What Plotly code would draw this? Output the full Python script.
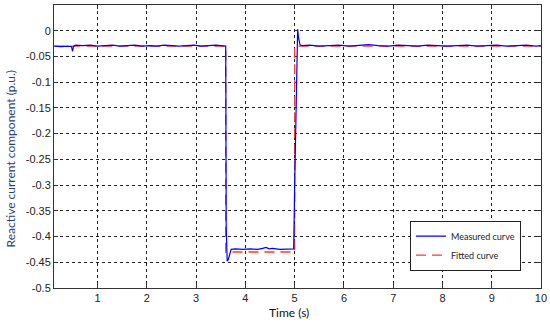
import plotly.graph_objects as go

# Measured reactive current component (p.u.) vs time (s)
meas_t = [0.12, 0.25, 0.40, 0.47, 0.49, 0.51, 0.55, 0.70, 0.85, 1.00, 1.15, 1.30,
          1.45, 1.60, 1.75, 1.90, 2.05, 2.20, 2.35, 2.50, 2.65, 2.80, 2.95, 3.10,
          3.25, 3.40, 3.50, 3.58, 3.60, 3.61, 3.63, 3.65, 3.68, 3.71, 3.80, 3.95,
          4.10, 4.25, 4.35, 4.42, 4.48, 4.55, 4.70, 4.85, 4.98, 5.00, 5.03, 5.06,
          5.08, 5.11, 5.15, 5.30, 5.50, 5.70, 5.90, 6.10, 6.30, 6.50, 6.70, 6.90,
          7.10, 7.30, 7.50, 7.70, 7.90, 8.10, 8.30, 8.50, 8.70, 8.90, 9.10, 9.30,
          9.50, 9.70, 9.90, 10.0]
meas_v = [-0.030, -0.031, -0.030, -0.031, -0.040, -0.030, -0.028, -0.029, -0.028, -0.030, -0.029, -0.028,
          -0.030, -0.029, -0.028, -0.030, -0.029, -0.030, -0.028, -0.029, -0.030, -0.029, -0.028, -0.030,
          -0.029, -0.028, -0.029, -0.030, -0.030, -0.380, -0.448, -0.445, -0.432, -0.425, -0.424, -0.425,
          -0.424, -0.425, -0.423, -0.421, -0.424, -0.423, -0.425, -0.424, -0.424, -0.300, -0.120, 0.003,
          -0.015, -0.028, -0.029, -0.028, -0.030, -0.029, -0.028, -0.030, -0.029, -0.027, -0.029, -0.030,
          -0.028, -0.029, -0.030, -0.028, -0.029, -0.030, -0.029, -0.028, -0.030, -0.029, -0.028, -0.030,
          -0.029, -0.028, -0.030, -0.029]

# Fitted curve
fit_t = [0.12, 3.60, 3.60, 5.00, 5.00, 10.0]
fit_v = [-0.030, -0.030, -0.430, -0.430, -0.030, -0.030]

x_ticks = [1, 2, 3, 4, 5, 6, 7, 8, 9, 10]
y_ticks = [0, -0.05, -0.1, -0.15, -0.2, -0.25, -0.3, -0.35, -0.4, -0.45, -0.5]
y_labels = ['0', '-0.05', '-0.1', '-0.15', '-0.2', '-0.25', '-0.3', '-0.35', '-0.4', '-0.45', '-0.5']

fig = go.Figure()

fig.add_trace(go.Scatter(
    x=fit_t, y=fit_v, name='Fitted curve', mode='lines',
    line=dict(color='#ff3b30', width=1.3, dash='10px,6px'),
    showlegend=False
))

fig.add_trace(go.Scatter(
    x=meas_t, y=meas_v, name='Measured curve', mode='lines',
    line=dict(color='#0000ff', width=1.2)
))

# legend entry for fitted curve (order: measured first)
fig.add_trace(go.Scatter(
    x=[None], y=[None], name='Fitted curve', mode='lines',
    line=dict(color='#ff3b30', width=1.3, dash='10px,6px')
))

axis_common = dict(
    showline=True, linecolor='#333', linewidth=1, mirror='ticks',
    ticks='inside', ticklen=4, tickcolor='#333',
    showgrid=True, gridcolor='#222', griddash='dot', gridwidth=1,
    zeroline=False, automargin=False,
    tickfont=dict(family='Liberation Sans, Arial', size=11, color='#222'),
)

title_font = dict(family='Lato, Open Sans', size=12)

fig.update_layout(
    width=550, height=325,
    margin=dict(l=54, r=9, t=5, b=37),
    plot_bgcolor='white', paper_bgcolor='white',
    xaxis=dict(range=[0.114, 10.0005], tickvals=x_ticks, **axis_common),
    yaxis=dict(range=[-0.5, 0.05], tickvals=y_ticks, ticktext=y_labels, **axis_common),
    legend=dict(
        x=0.731, y=0.238, xanchor='left', yanchor='top',
        bgcolor='white', bordercolor='#222', borderwidth=1,
        font=dict(family='Lato, Open Sans', size=9, color='#222'),
        tracegroupgap=0, itemwidth=30,
    ),
    annotations=[
        dict(text='Time (s)', xref='paper', yref='paper', x=0.483, y=-0.088,
             xanchor='center', yanchor='middle', showarrow=False,
             font=dict(color='#111', **title_font)),
        dict(text='Reactive current component (p.u.)', xref='paper', yref='paper',
             x=-0.09, y=0.455, xanchor='center', yanchor='middle', textangle=-90,
             showarrow=False, font=dict(color='#1f3f7f', **title_font)),
    ],
)

# drop the default page margin so the figure sits at the window's corner
fig.write_html("out.html", config={'displayModeBar': False},
               post_script="document.body.style.margin='0';")
